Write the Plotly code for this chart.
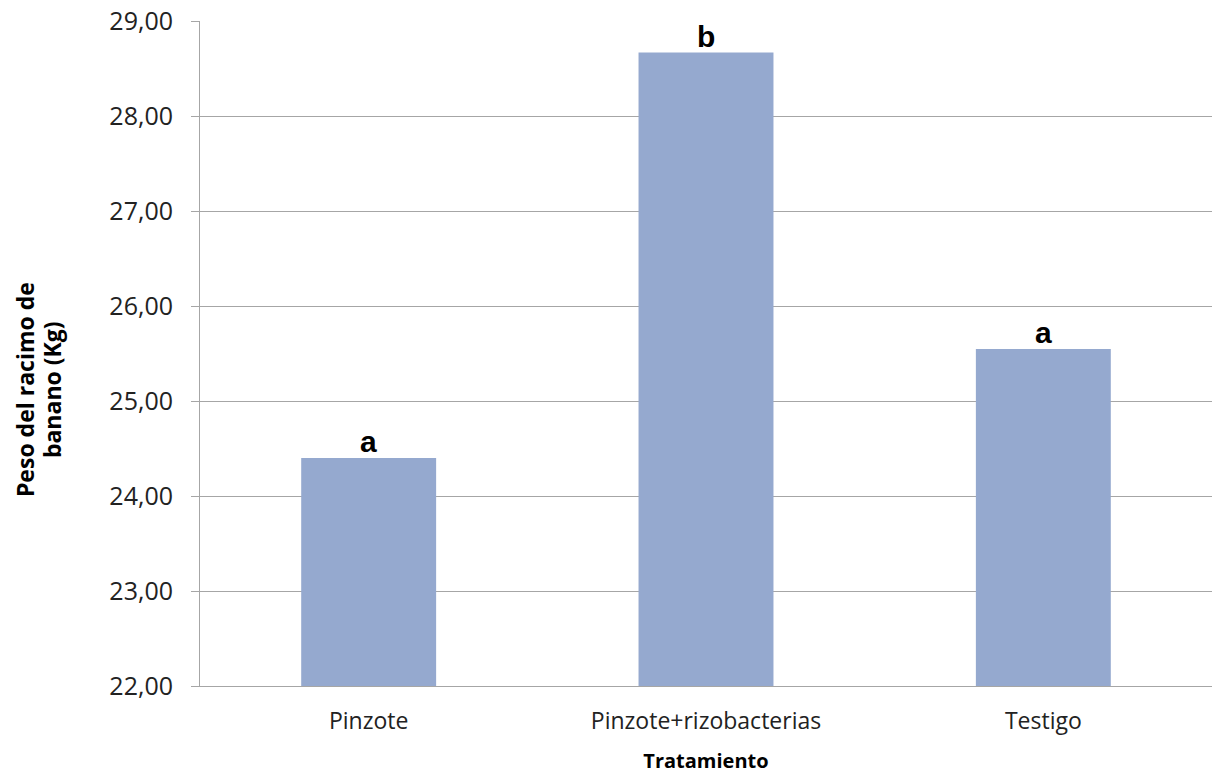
import plotly.graph_objects as go

categories = ["Pinzote", "Pinzote+rizobacterias", "Testigo"]
values = [24.40, 28.67, 25.55]
letters = ["a", "b", "a"]
tick_vals = [22, 23, 24, 25, 26, 27, 28, 29]
tick_text = ["22,00", "23,00", "24,00", "25,00", "26,00", "27,00", "28,00", "29,00"]
y_title_lines = ["Peso del racimo de", "banano (Kg)"]

fig = go.Figure()
fig.add_trace(go.Bar(
    x=categories, y=values,
    marker=dict(color="#95A9CF", line=dict(width=0)),
    width=0.4,
))

for c, v, l in zip(categories, values, letters):
    fig.add_annotation(
        x=c, y=v, text=l, showarrow=False, yanchor="bottom", yshift=-2,
        font=dict(family="Liberation Sans, Arial", size=30, color="black", weight="bold"),
    )

for line, xs in zip(y_title_lines, [-175, -148]):
    fig.add_annotation(
        xref="paper", yref="paper", x=0, y=0.445, xshift=xs,
        xanchor="center", yanchor="middle", textangle=-90, showarrow=False,
        text=line,
        font=dict(size=23, family="Open Sans", color="black", weight="bold"),
    )

fig.update_layout(
    width=1212, height=774,
    margin=dict(l=200, r=0, t=21, b=88),
    paper_bgcolor="white", plot_bgcolor="white",
    showlegend=False,
    font=dict(family="Open Sans", color="#222222"),
)
fig.update_yaxes(
    range=[22, 29.003], tickvals=tick_vals, ticktext=tick_text,
    showgrid=True, gridcolor="#A6A6A6", gridwidth=1,
    showline=True, linecolor="#A6A6A6", linewidth=1,
    ticks="outside", ticklen=8, tickcolor="#A6A6A6",
    ticklabelstandoff=13,
    tickfont=dict(size=25, family="Open Sans", color="#222222"),
    zeroline=False,
)
fig.update_xaxes(
    showline=True, linecolor="#A6A6A6", linewidth=1,
    ticks="", ticklabelstandoff=14,
    tickfont=dict(size=23, family="Open Sans", color="#222222"),
    title=dict(text="Tratamiento",
               font=dict(size=20, family="Open Sans", color="black", weight="bold"),
               standoff=21),
)

fig.write_html("out.html", config={"displayModeBar": False},
               post_script="document.body.style.margin='0';")
